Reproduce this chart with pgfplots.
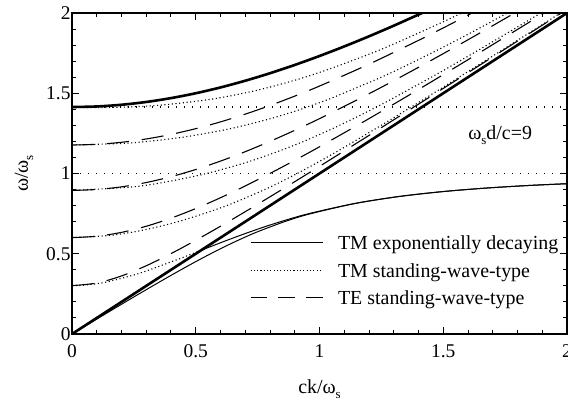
\documentclass[border=0pt]{standalone}
\usepackage{fontspec}
\setmainfont{Liberation Serif}
\usepackage{pgfplots}
\pgfplotsset{compat=1.18}
\tikzset{
  thickc/.style={black, line width=2.6bp},
  tmexp/.style={black, line width=1bp},
  tmsw/.style={black, line width=1.1bp, dash pattern=on 1.1bp off 2.6bp},
  hdot/.style={black, line width=1.1bp, dash pattern=on 1.2bp off 6.8bp},
  tesw/.style={black, line width=1.1bp, dash pattern=on 22bp off 13bp},
}
\newcommand{\sub}[1]{\raisebox{-0.55ex}{\fontsize{13}{13}\selectfont #1}}
\begin{document}
\begin{tikzpicture}
\begin{axis}[
  scale only axis, width=495bp, height=321bp,
  xmin=0, xmax=2, ymin=0, ymax=2,
  xtick={0,0.5,1,1.5,2}, xticklabels={0,0.5,1,1.5,2},
  ytick={0,0.5,1,1.5,2}, yticklabels={0,0.5,1,1.5,2},
  minor x tick num=4, minor y tick num=4,
  tick align=inside, major tick length=7bp, minor tick length=4bp,
  every tick/.style={black, line width=1bp},
  axis line style={line width=1.2bp},
  /pgf/number format/assume math mode=true,
  tick label style={font=\fontsize{19.5}{21}\selectfont},
  xticklabel style={yshift=-7bp},
  yticklabel style={xshift=2bp},
  xlabel={ck/ω\sub{s}},
  ylabel={ω/ω\sub{s}},
  label style={font=\fontsize{20}{22}\selectfont},
  xlabel style={at={(axis description cs:0.5,-0.1838)}, anchor=base},
  ylabel style={at={(axis description cs:-0.0889,0.5)}, anchor=base},
  legend image code/.code={\draw[#1] (0bp,0bp) -- (72bp,0bp);},
  legend style={at={(axis cs:0.719,0.611)}, anchor=north west, draw=none, fill=none,
    inner sep=0pt, outer sep=0pt, column sep=15bp, row sep=13.5bp,
    font=\fontsize{20}{22}\selectfont,
    nodes={inner sep=0pt, text height=14bp, text depth=0bp}},
  legend cell align=left,
]
% horizontal reference lines
\addplot[hdot, forget plot] coordinates {(0,1) (2,1)};
\addplot[hdot, forget plot] coordinates {(0,1.4142) (2,1.4142)};

% TE standing-wave-type
\addplot[tesw, smooth, forget plot] coordinates {(0,0.3013) (0.1,0.3175) (0.2,0.3616) (0.3,0.4252) (0.4,0.5008) (0.5,0.5838) (0.6,0.6714) (0.7,0.7621) (0.8,0.8549) (0.9,0.9491) (1.0,1.0444) (1.2,1.2373) (1.4,1.4321) (1.6,1.6281) (1.8,1.8250) (1.9772,2.0)};
\addplot[tesw, smooth, forget plot] coordinates {(0,0.6007) (0.1,0.6090) (0.2,0.6331) (0.3,0.6714) (0.4,0.7217) (0.5,0.7816) (0.6,0.8490) (0.7,0.9224) (0.8,1.0004) (0.9,1.0821) (1.0,1.1665) (1.2,1.3420) (1.4,1.5234) (1.6,1.7090) (1.8,1.8976) (1.9077,2.0)};
\addplot[tesw, smooth, forget plot] coordinates {(0,0.8947) (0.1,0.9003) (0.2,0.9168) (0.3,0.9437) (0.4,0.9800) (0.5,1.0249) (0.6,1.0773) (0.7,1.1360) (0.8,1.2002) (0.9,1.2691) (1.0,1.3418) (1.2,1.4968) (1.4,1.6615) (1.6,1.8332) (1.7887,2.0)};
\addplot[tesw, smooth, forget plot] coordinates {(0,1.1775) (0.1,1.1817) (0.2,1.1944) (0.3,1.2151) (0.4,1.2436) (0.5,1.2793) (0.6,1.3216) (0.7,1.3699) (0.8,1.4236) (0.9,1.4821) (1.0,1.5448) (1.2,1.6812) (1.4,1.8294) (1.5,1.9070) (1.6166,2.0)};

% TM standing-wave-type
\addplot[tmsw, smooth, forget plot] coordinates {(0,0.3013) (0.0541,0.3048) (0.1163,0.3171) (0.1611,0.3317) (0.2490,0.3673) (0.3090,0.3975) (0.3756,0.4353) (0.4305,0.4666) (0.4696,0.4900) (0.4959,0.5059) (0.5150,0.5174) (0.5211,0.5211)};
\addplot[tmsw, smooth, forget plot] coordinates {(0,0.6007) (0.1523,0.6142) (0.2857,0.6465) (0.4429,0.7062) (0.6227,0.7986) (0.7826,0.9028) (0.8906,0.9847) (0.9775,1.0561) (1.0894,1.1538) (1.2470,1.2980) (1.3705,1.4142) (1.5097,1.5475) (1.7345,1.7656) (1.8437,1.8724) (1.9737,2.0)};
\addplot[tmsw, smooth, forget plot] coordinates {(0,0.8947) (0.2290,0.9141) (0.3628,0.9426) (0.5403,0.9988) (0.7229,1.0782) (0.8962,1.1750) (1.0395,1.2702) (1.1521,1.3533) (1.2299,1.4142) (1.2900,1.4629) (1.4734,1.6186) (1.5945,1.7257) (1.7483,1.8652) (1.8940,2.0)};
\addplot[tmsw, smooth, forget plot] coordinates {(0,1.1775) (0.2017,1.1873) (0.3082,1.2003) (0.4571,1.2282) (0.6286,1.2756) (0.7811,1.3329) (0.8828,1.3794) (0.9505,1.4142) (1.0472,1.4689) (1.2450,1.5968) (1.3677,1.6855) (1.5185,1.8019) (1.6433,1.9031) (1.7588,2.0)};
\addplot[tmsw, smooth, forget plot] coordinates {(0,1.4111) (0.1304,1.4110) (0.1876,1.4125) (0.2243,1.4142) (0.3592,1.4260) (0.5645,1.4633) (0.7590,1.5227) (0.9710,1.6146) (1.2373,1.7659) (1.4836,1.9336) (1.5739,2.0)};

% TM exponentially decaying
\addplot[tmexp, smooth, forget plot] coordinates {(0.5211,0.5211) (0.5271,0.5247) (0.5446,0.5353) (0.5715,0.5515) (0.6058,0.5719) (0.6883,0.6194) (0.7788,0.6683) (0.8709,0.7130) (0.9620,0.7519) (1.1404,0.8127) (1.3161,0.8557) (1.4919,0.8864) (1.6691,0.9088) (1.8484,0.9256) (2.0,0.9364)};
\addplot[tmexp, smooth, forget plot] coordinates {(0,0) (0.1342,0.1246) (0.2604,0.2404) (0.3733,0.3418) (0.4715,0.4270) (0.5564,0.4970) (0.6301,0.5541) (0.6956,0.6011) (0.7548,0.6401) (0.8612,0.7012) (0.9582,0.7471) (1.1398,0.8119) (1.3161,0.8555) (1.4919,0.8863) (1.6691,0.9088) (1.8484,0.9256) (2.0,0.9364)};

% light line and bulk plasmon
\addplot[thickc, forget plot] coordinates {(0,0) (2,2)};
\addplot[thickc, smooth, forget plot] coordinates {(0,1.4142) (0.1,1.4177) (0.2,1.4283) (0.3,1.4457) (0.4,1.4697) (0.5,1.5) (0.6,1.5362) (0.7,1.5780) (0.8,1.6248) (0.9,1.6763) (1.0,1.7321) (1.1,1.7916) (1.2,1.8547) (1.3,1.9209) (1.4142,2.0)};

\node[font=\fontsize{20}{22}\selectfont] at (axis cs:1.73,1.24) {ω\sub{s}d/c=9};

\addlegendimage{tmexp}
\addlegendentry{TM exponentially decaying}
\addlegendimage{black, line width=1.1bp, dash pattern=on 1.1bp off 2.2bp}
\addlegendentry{TM standing-wave-type}
\addlegendimage{black, line width=1.1bp, dash pattern=on 16.7bp off 11bp}
\addlegendentry{TE standing-wave-type}
\end{axis}
\pgfresetboundingbox
\path[use as bounding box] ([xshift=-72bp,yshift=-67bp]current axis.south west) rectangle ([xshift=1bp,yshift=13bp]current axis.north east);
\end{tikzpicture}
\end{document}
